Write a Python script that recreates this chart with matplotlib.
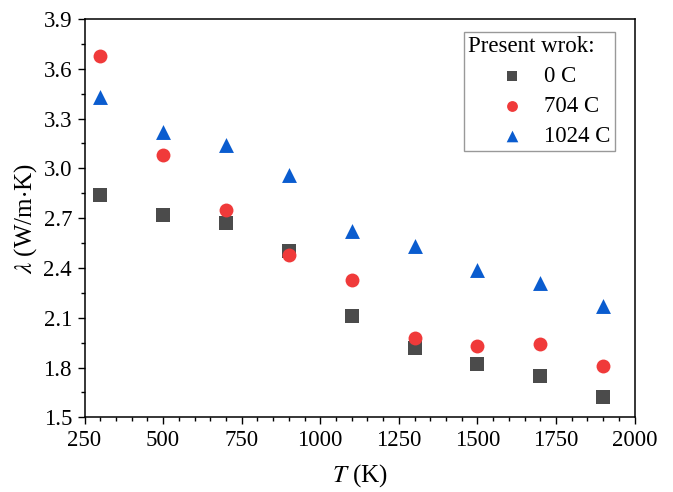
import matplotlib
matplotlib.use("Agg")
import matplotlib.pyplot as plt
from matplotlib.ticker import MultipleLocator, FormatStrFormatter
from matplotlib.legend_handler import HandlerPathCollection

T = [300, 500, 700, 900, 1100, 1300, 1500, 1700, 1900]
lam_0C = [2.84, 2.72, 2.67, 2.50, 2.11, 1.92, 1.82, 1.75, 1.62]
lam_704C = [3.68, 3.08, 2.75, 2.48, 2.33, 1.98, 1.93, 1.94, 1.81]
lam_1024C = [3.43, 3.22, 3.14, 2.96, 2.62, 2.53, 2.39, 2.31, 2.17]
labels = ["0 C", "704 C", "1024 C"]

plt.rcParams['font.family'] = ['Liberation Serif', 'DejaVu Serif']
plt.rcParams['mathtext.fontset'] = 'stix'


class ShiftedHandler(HandlerPathCollection):
    def get_xdata(self, legend, xdescent, ydescent, width, height, fontsize):
        return [-xdescent, -xdescent + width], [-xdescent + 0.63 * width]


fig = plt.figure(figsize=(6.73, 4.92), dpi=100)
ax = fig.add_axes([0.1256, 0.1518, 0.8172, 0.8096])

s0 = ax.scatter(T, lam_0C, marker='s', s=90, color='#4b4b4b', label=labels[0], zorder=3, linewidths=0)
s1 = ax.scatter(T, lam_704C, marker='o', s=100, color='#f03a3a', label=labels[1], zorder=3, linewidths=0)
s2 = ax.scatter(T, lam_1024C, marker='^', s=115, color='#0a5ccf', label=labels[2], zorder=3, linewidths=0)

ax.set_xlim(250, 2000)
ax.set_ylim(1.5, 3.9)
ax.xaxis.set_major_locator(MultipleLocator(250))
ax.xaxis.set_minor_locator(MultipleLocator(50))
ax.yaxis.set_major_locator(MultipleLocator(0.3))
ax.yaxis.set_minor_locator(MultipleLocator(0.15))
ax.yaxis.set_major_formatter(FormatStrFormatter('%.1f'))
ax.tick_params(which='major', direction='out', length=5, width=1, labelsize=16.5)
ax.tick_params(axis='y', which='major', pad=4)
ax.tick_params(axis='x', which='major', pad=4)
ax.tick_params(which='minor', direction='out', length=3, width=1)
for sp in ax.spines.values():
    sp.set_linewidth(1.1)

ax.set_xlabel(r'$T$ (K)', fontsize=18, labelpad=8)
ax.set_ylabel(r'$\lambda$ (W/m$\cdot$K)', fontsize=18, labelpad=3)

h = ShiftedHandler()
leg = ax.legend(title='Present wrok:', loc='upper right', bbox_to_anchor=(0.9645, 0.968),
                fontsize=16.5, title_fontsize=16.5, frameon=True, fancybox=False,
                edgecolor='#999999', framealpha=1, handletextpad=0.3,
                borderpad=0.2, labelspacing=0.38, handlelength=3.0, markerscale=0.78,
                borderaxespad=0,
                handler_map={s0: h, s1: h, s2: h})
leg._legend_box.align = 'left'
leg.get_frame().set_linewidth(1.0)

fig.savefig('out.png', dpi=100)
